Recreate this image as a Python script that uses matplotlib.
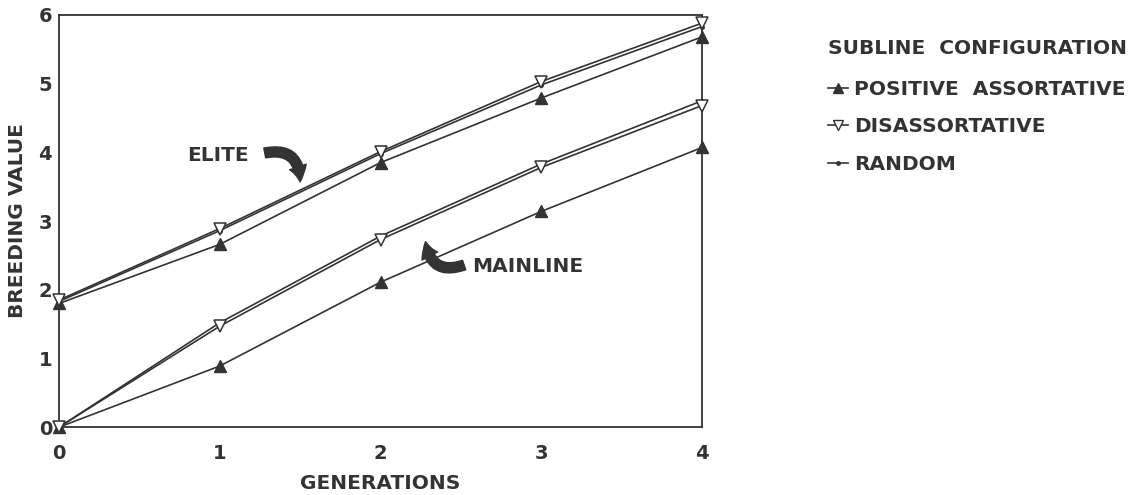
import matplotlib.pyplot as plt
from matplotlib.lines import Line2D

generations = [0, 1, 2, 3, 4]

# elite sublines
elite_positive = [1.80, 2.66, 3.85, 4.79, 5.68]
elite_disassort = [1.85, 2.89, 4.01, 5.03, 5.88]
elite_random = [1.83, 2.86, 3.98, 4.98, 5.83]

# mainline
main_positive = [0.0, 0.89, 2.11, 3.14, 4.07]
main_disassort = [0.0, 1.47, 2.73, 3.78, 4.68]
main_random = [0.0, 1.52, 2.78, 3.83, 4.75]

legend_labels = ["POSITIVE  ASSORTATIVE", "DISASSORTATIVE", "RANDOM"]

ink = "#333333"
plt.rcParams["font.family"] = "DejaVu Sans"
plt.rcParams["font.weight"] = "bold"

fig = plt.figure(figsize=(11.43, 4.95), dpi=100)
ax = fig.add_axes([0.0516, 0.137, 0.5626, 0.833])

def draw(y, style):
    if style == "pos":
        ax.plot(generations, y, color=ink, lw=1.2, marker="^", ms=8,
                mfc=ink, mec=ink, clip_on=False, zorder=3)
    elif style == "dis":
        ax.plot(generations, y, color=ink, lw=1.2, marker="v", ms=8,
                mfc="white", mec=ink, mew=1.1, clip_on=False, zorder=4)
    else:
        ax.plot(generations, y, color=ink, lw=1.2, marker=".", ms=5,
                mfc=ink, mec=ink, clip_on=False, zorder=3)

draw(elite_positive, "pos")
draw(elite_random, "rnd")
draw(elite_disassort, "dis")
draw(main_positive, "pos")
draw(main_random, "rnd")
draw(main_disassort, "dis")

ax.set_xlim(0, 4)
ax.set_ylim(0, 6)
ax.set_xticks(generations)
ax.set_yticks(range(7))
ax.tick_params(length=0, labelsize=14, colors=ink)
ax.tick_params(axis="x", pad=12)
ax.tick_params(axis="y", pad=5)
for s in ax.spines.values():
    s.set_color(ink)
    s.set_linewidth(1.3)

ax.set_xlabel("GENERATIONS", fontsize=14.5, fontweight="bold", color=ink, labelpad=8)
ax.set_ylabel("BREEDING VALUE", fontsize=14.5, fontweight="bold", color=ink, labelpad=8)

# annotations
ax.text(0.80, 3.96, "ELITE", fontsize=14.5, fontweight="bold", color=ink, va="center")
ax.annotate("", xy=(1.50, 3.57), xytext=(1.28, 3.99),
            arrowprops=dict(arrowstyle="simple,head_length=0.6,head_width=0.7,tail_width=0.4",
                            connectionstyle="arc3,rad=-0.6", fc=ink, ec=ink,
                            mutation_scale=18, shrinkA=0, shrinkB=0))
ax.text(2.57, 2.34, "MAINLINE", fontsize=14.5, fontweight="bold", color=ink, va="center")
ax.annotate("", xy=(2.28, 2.70), xytext=(2.52, 2.36),
            arrowprops=dict(arrowstyle="simple,head_length=0.6,head_width=0.7,tail_width=0.4",
                            connectionstyle="arc3,rad=-0.6", fc=ink, ec=ink,
                            mutation_scale=18, shrinkA=0, shrinkB=0))

handles = [
    Line2D([], [], color=ink, lw=1.2, marker="^", ms=7, mfc=ink, mec=ink),
    Line2D([], [], color=ink, lw=1.2, marker="v", ms=7, mfc="white", mec=ink),
    Line2D([], [], color=ink, lw=1.2, marker=".", ms=5, mfc=ink, mec=ink),
]
leg = fig.legend(handles, legend_labels, title="SUBLINE  CONFIGURATION",
                 loc="upper left", bbox_to_anchor=(0.724, 0.921), frameon=False,
                 fontsize=14.5, title_fontsize=14.5, alignment="left",
                 handlelength=1.0, handletextpad=0.3, labelspacing=0.9,
                 borderpad=0, borderaxespad=0)
leg._legend_box.sep = 16
for t in leg.get_texts():
    t.set_color(ink)
    t.set_fontweight("bold")
leg.get_title().set_color(ink)
leg.get_title().set_fontweight("bold")

fig.savefig("out.png", dpi=100, facecolor="white")
